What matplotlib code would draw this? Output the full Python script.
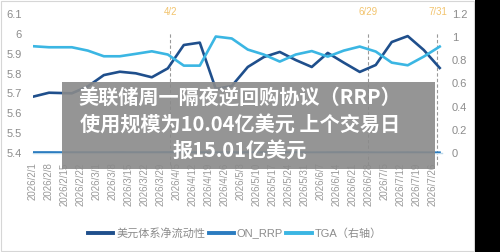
import numpy as np
import pandas as pd
import matplotlib
matplotlib.use("Agg")
import matplotlib.pyplot as plt
from matplotlib.patches import Rectangle

plt.rcParams['font.family'] = ['Liberation Sans', 'Noto Sans CJK SC', 'DejaVu Sans']

# data
dates = ['2026-02-01', '2026-02-08', '2026-02-18', '2026-02-25', '2026-03-04', '2026-03-11',
         '2026-03-18', '2026-03-25', '2026-04-01', '2026-04-08', '2026-04-15', '2026-04-22',
         '2026-04-29', '2026-05-06', '2026-05-13', '2026-05-20', '2026-05-27', '2026-06-03',
         '2026-06-10', '2026-06-17', '2026-06-24', '2026-07-01', '2026-07-08', '2026-07-15',
         '2026-07-22', '2026-07-29']
net_liq = [5.683, 5.703, 5.700, 5.735, 5.792, 5.809, 5.801, 5.781, 5.826, 5.944, 5.956, 5.722,
           5.737, 5.833, 5.883, 5.909, 5.868, 5.833, 5.904, 5.855, 5.808, 5.843, 5.959, 5.989,
           5.919, 5.828]
on_rrp = [0.004, 0.004, 0.003, 0.003, 0.003, 0.004, 0.003, 0.003, 0.004, 0.003, 0.003, 0.002,
          0.003, 0.003, 0.002, 0.003, 0.003, 0.002, 0.003, 0.004, 0.003, 0.002, 0.002, 0.003,
          0.002, 0.002]
tga = [0.922, 0.913, 0.913, 0.884, 0.835, 0.835, 0.856, 0.878, 0.850, 0.754, 0.754, 1.006,
       0.989, 0.893, 0.850, 0.789, 0.850, 0.880, 0.832, 0.884, 0.919, 0.876, 0.780, 0.757,
       0.832, 0.919]
event_pos = ['2026-04-02', '2026-06-27 17:00', '2026-07-28']
event_lab = ['4/2', '6/29', '7/31']
tick_dates = pd.date_range('2026-02-01', '2026-07-26', freq='7D')
tick_labels = [f"{d.year}/{d.month}/{d.day}" for d in tick_dates]

x = pd.to_datetime(dates)
c_net = '#1f4f8c'
c_rrp = '#2b7cc0'
c_tga = '#3bb6e3'
gray = '#8c8c8c'

fig = plt.figure(figsize=(5, 2.52), dpi=100)
ax = fig.add_axes([0.066, 0.394, 0.818, 0.550])
ax2 = ax.twinx()

l1, = ax.plot(x, net_liq, color=c_net, lw=1.9, label='美元体系净流动性', zorder=3)
l2, = ax2.plot(x, on_rrp, color=c_rrp, lw=1.6, label='ON_RRP', zorder=2)
l3, = ax2.plot(x, tga, color=c_tga, lw=1.9, label='TGA（右轴）', zorder=2)

ax.set_ylim(5.4, 6.1)
ax2.set_ylim(0, 1.2)
ax.set_xlim(pd.Timestamp('2026-02-01'), pd.Timestamp('2026-02-01') + pd.Timedelta(days=179))

ax.set_yticks(np.arange(5.4, 6.15, 0.1))
ax.set_yticklabels(['5.4', '5.5', '5.6', '5.7', '5.8', '5.9', '6', '6.1'])
ax2.set_yticks(np.arange(0, 1.25, 0.2))
ax2.set_yticklabels(['0', '0.2', '0.4', '0.6', '0.8', '1', '1.2'])
ax.set_xticks(tick_dates)
ax.set_xticklabels(tick_labels, rotation=90)

ax.tick_params(axis='y', length=0, labelsize=8, labelcolor=gray, pad=8)
ax2.tick_params(axis='y', length=0, labelsize=8, labelcolor=gray, pad=7)
ax.tick_params(axis='x', length=0, labelsize=7, labelcolor='#999999', pad=7)

for a in (ax, ax2):
    for s in a.spines.values():
        s.set_visible(False)
ax.spines['bottom'].set_visible(True)
ax.spines['bottom'].set_color('#bcd8ea')
ax.spines['bottom'].set_linewidth(1.0)

for p, lab in zip(event_pos, event_lab):
    t = pd.Timestamp(p)
    ax.axvline(t, ymin=-0.09, ymax=0.87, color='#999999', lw=0.8,
               ls=(0, (3, 2)), clip_on=False, zorder=1)
    ax.text(t, 1.015, lab, transform=ax.get_xaxis_transform(), ha='center', va='center',
            fontsize=7, color='#f2c46e')

leg = fig.legend(handles=[l1, l2, l3], loc='center', bbox_to_anchor=(0.47, 0.075), ncol=3,
                 frameon=False, fontsize=8, handlelength=2.3, handletextpad=0.25,
                 columnspacing=0.3)
for t in leg.get_texts():
    t.set_color(gray)
for h in leg.legend_handles:
    h.set_linewidth(2.8)

# overlay title box
fig.patches.append(Rectangle((0.124, 0.329), 0.746, 0.346, transform=fig.transFigure,
                             facecolor='#8a8a8a', alpha=0.9, edgecolor='none', zorder=10))
overlay = ['美联储周一隔夜逆回购协议（RRP）', '使用规模为10.04亿美元 上个交易日', '报15.01亿美元']
for txt, yy in zip(overlay, [0.611, 0.504, 0.405]):
    fig.text(0.48, yy, txt, ha='center', va='center', fontsize=14.5, fontweight='bold',
             color='white', family=['Noto Sans CJK SC', 'DejaVu Sans'], zorder=11)

# panel frame and black strip
fig.patches.append(Rectangle((0.002, 0.004), 0.946, 0.992, transform=fig.transFigure,
                             fill=False, edgecolor='#d6d6d6', lw=0.8, zorder=0))
fig.patches.append(Rectangle((0.95, 0), 0.05, 1, transform=fig.transFigure,
                             facecolor='black', edgecolor='none', zorder=12))

fig.savefig('out.png', dpi=100)
